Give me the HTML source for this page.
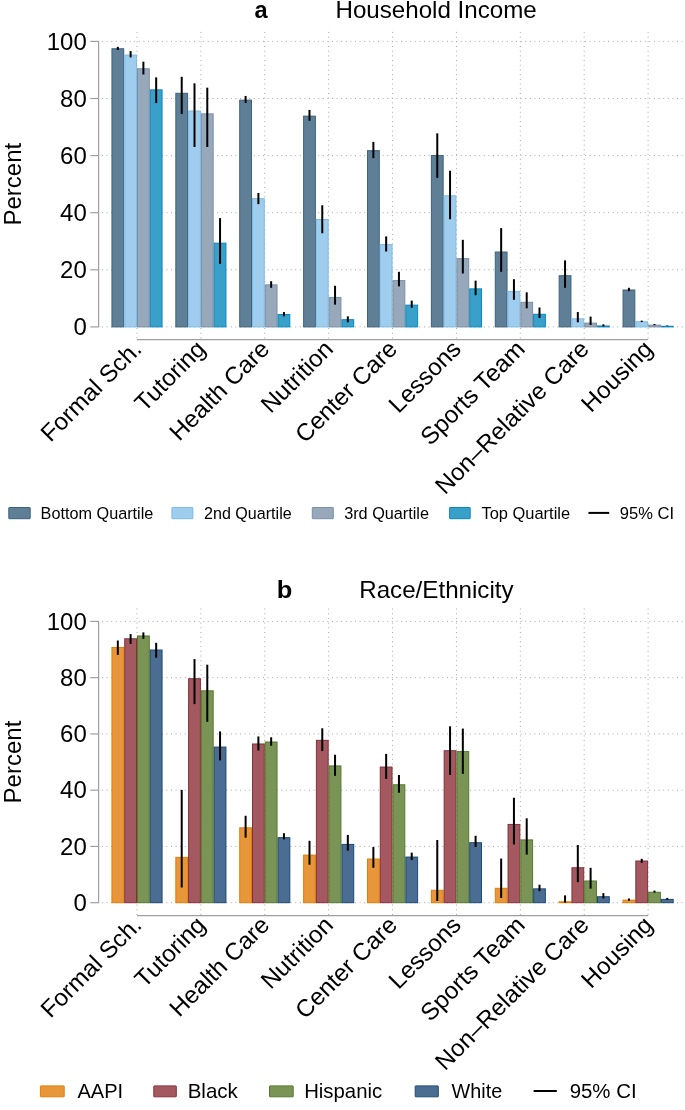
<!DOCTYPE html>
<html><head><meta charset="utf-8"><style>
html,body{margin:0;padding:0;background:#fff;}
body{width:685px;height:1110px;overflow:hidden;}
svg{display:block;font-family:"Liberation Sans", sans-serif;will-change:transform;}
.g{stroke:#a8a8a8;stroke-width:1;stroke-dasharray:1 3.6;}
.gv{stroke-dasharray:1 3.7;}
.e{stroke:#000;stroke-width:2;}
.ax{stroke:#a0a0a0;stroke-width:1.2;}
.yl{font-size:24px;fill:#000;}
.xl{font-size:24px;fill:#000;}
.t{font-size:24px;fill:#000;}
.tb{font-size:24px;font-weight:bold;fill:#000;}
</style></head><body>
<svg width="685" height="1110" viewBox="0 0 685 1110">
<rect width="685" height="1110" fill="#fff"/>
<line x1="102" y1="326.90" x2="685" y2="326.90" class="g"/>
<line x1="102" y1="269.80" x2="685" y2="269.80" class="g"/>
<line x1="102" y1="212.70" x2="685" y2="212.70" class="g"/>
<line x1="102" y1="155.60" x2="685" y2="155.60" class="g"/>
<line x1="102" y1="98.50" x2="685" y2="98.50" class="g"/>
<line x1="102" y1="41.40" x2="685" y2="41.40" class="g"/>
<line x1="137.00" y1="31.9" x2="137.00" y2="339.6" class="g gv"/>
<line x1="200.89" y1="31.9" x2="200.89" y2="339.6" class="g gv"/>
<line x1="264.77" y1="31.9" x2="264.77" y2="339.6" class="g gv"/>
<line x1="328.66" y1="31.9" x2="328.66" y2="339.6" class="g gv"/>
<line x1="392.55" y1="31.9" x2="392.55" y2="339.6" class="g gv"/>
<line x1="456.44" y1="31.9" x2="456.44" y2="339.6" class="g gv"/>
<line x1="520.33" y1="31.9" x2="520.33" y2="339.6" class="g gv"/>
<line x1="584.21" y1="31.9" x2="584.21" y2="339.6" class="g gv"/>
<line x1="648.10" y1="31.9" x2="648.10" y2="339.6" class="g gv"/>
<rect x="111.94" y="48.75" width="11.78" height="278.15" fill="#5f7f97" stroke="#3d627d" stroke-width="1"/>
<rect x="124.72" y="55.03" width="11.78" height="271.87" fill="#9ecdee" stroke="#7fbbe6" stroke-width="1"/>
<rect x="137.50" y="68.74" width="11.78" height="258.16" fill="#97a8ba" stroke="#7a90a7" stroke-width="1"/>
<rect x="150.28" y="89.86" width="11.78" height="237.04" fill="#39a0c9" stroke="#0d88bd" stroke-width="1"/>
<rect x="175.83" y="93.29" width="11.78" height="233.61" fill="#5f7f97" stroke="#3d627d" stroke-width="1"/>
<rect x="188.61" y="110.99" width="11.78" height="215.91" fill="#9ecdee" stroke="#7fbbe6" stroke-width="1"/>
<rect x="201.39" y="113.85" width="11.78" height="213.05" fill="#97a8ba" stroke="#7a90a7" stroke-width="1"/>
<rect x="214.16" y="243.18" width="11.78" height="83.72" fill="#39a0c9" stroke="#0d88bd" stroke-width="1"/>
<rect x="239.72" y="100.14" width="11.78" height="226.76" fill="#5f7f97" stroke="#3d627d" stroke-width="1"/>
<rect x="252.50" y="198.64" width="11.78" height="128.26" fill="#9ecdee" stroke="#7fbbe6" stroke-width="1"/>
<rect x="265.27" y="284.86" width="11.78" height="42.04" fill="#97a8ba" stroke="#7a90a7" stroke-width="1"/>
<rect x="278.05" y="314.55" width="11.78" height="12.35" fill="#39a0c9" stroke="#0d88bd" stroke-width="1"/>
<rect x="303.61" y="116.13" width="11.78" height="210.77" fill="#5f7f97" stroke="#3d627d" stroke-width="1"/>
<rect x="316.39" y="219.48" width="11.78" height="107.42" fill="#9ecdee" stroke="#7fbbe6" stroke-width="1"/>
<rect x="329.16" y="297.42" width="11.78" height="29.48" fill="#97a8ba" stroke="#7a90a7" stroke-width="1"/>
<rect x="341.94" y="319.69" width="11.78" height="7.21" fill="#39a0c9" stroke="#0d88bd" stroke-width="1"/>
<rect x="367.50" y="150.68" width="11.78" height="176.22" fill="#5f7f97" stroke="#3d627d" stroke-width="1"/>
<rect x="380.27" y="244.60" width="11.78" height="82.30" fill="#9ecdee" stroke="#7fbbe6" stroke-width="1"/>
<rect x="393.05" y="280.58" width="11.78" height="46.32" fill="#97a8ba" stroke="#7a90a7" stroke-width="1"/>
<rect x="405.83" y="305.13" width="11.78" height="21.77" fill="#39a0c9" stroke="#0d88bd" stroke-width="1"/>
<rect x="431.38" y="155.53" width="11.78" height="171.37" fill="#5f7f97" stroke="#3d627d" stroke-width="1"/>
<rect x="444.16" y="195.78" width="11.78" height="131.12" fill="#9ecdee" stroke="#7fbbe6" stroke-width="1"/>
<rect x="456.94" y="258.59" width="11.78" height="68.31" fill="#97a8ba" stroke="#7a90a7" stroke-width="1"/>
<rect x="469.71" y="288.86" width="11.78" height="38.04" fill="#39a0c9" stroke="#0d88bd" stroke-width="1"/>
<rect x="495.27" y="252.03" width="11.78" height="74.87" fill="#5f7f97" stroke="#3d627d" stroke-width="1"/>
<rect x="508.05" y="291.43" width="11.78" height="35.47" fill="#9ecdee" stroke="#7fbbe6" stroke-width="1"/>
<rect x="520.83" y="302.28" width="11.78" height="24.62" fill="#97a8ba" stroke="#7a90a7" stroke-width="1"/>
<rect x="533.60" y="314.27" width="11.78" height="12.63" fill="#39a0c9" stroke="#0d88bd" stroke-width="1"/>
<rect x="559.16" y="275.72" width="11.78" height="51.18" fill="#5f7f97" stroke="#3d627d" stroke-width="1"/>
<rect x="571.94" y="318.83" width="11.78" height="8.06" fill="#9ecdee" stroke="#7fbbe6" stroke-width="1"/>
<rect x="584.71" y="323.12" width="11.78" height="3.78" fill="#97a8ba" stroke="#7a90a7" stroke-width="1"/>
<rect x="597.49" y="325.97" width="11.78" height="0.93" fill="#39a0c9" stroke="#0d88bd" stroke-width="1"/>
<rect x="623.05" y="290.00" width="11.78" height="36.90" fill="#5f7f97" stroke="#3d627d" stroke-width="1"/>
<rect x="635.82" y="321.69" width="11.78" height="5.21" fill="#9ecdee" stroke="#7fbbe6" stroke-width="1"/>
<rect x="648.60" y="325.12" width="11.78" height="1.78" fill="#97a8ba" stroke="#7a90a7" stroke-width="1"/>
<rect x="661.38" y="326.26" width="11.78" height="0.64" fill="#39a0c9" stroke="#0d88bd" stroke-width="1"/>
<line x1="117.83" y1="46.82" x2="117.83" y2="49.96" class="e"/>
<line x1="130.61" y1="51.11" x2="130.61" y2="57.39" class="e"/>
<line x1="143.39" y1="61.67" x2="143.39" y2="74.52" class="e"/>
<line x1="156.17" y1="77.37" x2="156.17" y2="103.07" class="e"/>
<line x1="181.72" y1="76.80" x2="181.72" y2="113.92" class="e"/>
<line x1="194.50" y1="83.37" x2="194.50" y2="147.03" class="e"/>
<line x1="207.28" y1="87.65" x2="207.28" y2="147.03" class="e"/>
<line x1="220.05" y1="218.12" x2="220.05" y2="263.80" class="e"/>
<line x1="245.61" y1="95.93" x2="245.61" y2="103.07" class="e"/>
<line x1="258.39" y1="193.00" x2="258.39" y2="204.13" class="e"/>
<line x1="271.16" y1="281.22" x2="271.16" y2="287.79" class="e"/>
<line x1="283.94" y1="312.05" x2="283.94" y2="316.34" class="e"/>
<line x1="309.50" y1="109.92" x2="309.50" y2="120.77" class="e"/>
<line x1="322.27" y1="205.28" x2="322.27" y2="233.26" class="e"/>
<line x1="335.05" y1="285.79" x2="335.05" y2="304.63" class="e"/>
<line x1="347.83" y1="316.34" x2="347.83" y2="322.33" class="e"/>
<line x1="373.38" y1="141.90" x2="373.38" y2="158.17" class="e"/>
<line x1="386.16" y1="236.40" x2="386.16" y2="251.53" class="e"/>
<line x1="398.94" y1="271.80" x2="398.94" y2="286.36" class="e"/>
<line x1="411.72" y1="300.63" x2="411.72" y2="307.77" class="e"/>
<line x1="437.27" y1="133.33" x2="437.27" y2="177.87" class="e"/>
<line x1="450.05" y1="170.73" x2="450.05" y2="219.27" class="e"/>
<line x1="462.83" y1="239.82" x2="462.83" y2="273.51" class="e"/>
<line x1="475.60" y1="280.65" x2="475.60" y2="295.21" class="e"/>
<line x1="501.16" y1="228.12" x2="501.16" y2="271.80" class="e"/>
<line x1="513.94" y1="279.22" x2="513.94" y2="299.78" class="e"/>
<line x1="526.71" y1="292.35" x2="526.71" y2="308.34" class="e"/>
<line x1="539.49" y1="307.49" x2="539.49" y2="318.05" class="e"/>
<line x1="565.05" y1="260.38" x2="565.05" y2="287.79" class="e"/>
<line x1="577.82" y1="312.05" x2="577.82" y2="322.33" class="e"/>
<line x1="590.60" y1="316.62" x2="590.60" y2="324.90" class="e"/>
<line x1="603.38" y1="324.33" x2="603.38" y2="326.33" class="e"/>
<line x1="628.93" y1="287.79" x2="628.93" y2="291.21" class="e"/>
<line x1="641.71" y1="320.62" x2="641.71" y2="322.05" class="e"/>
<line x1="654.49" y1="324.04" x2="654.49" y2="325.19" class="e"/>
<line x1="667.27" y1="325.47" x2="667.27" y2="326.04" class="e"/>
<line x1="98.6" y1="41.40" x2="98.6" y2="326.90" class="ax"/>
<line x1="90.3" y1="326.90" x2="99.2" y2="326.90" class="ax"/>
<text x="86.8" y="335.00" text-anchor="end" class="yl">0</text>
<line x1="90.3" y1="269.80" x2="99.2" y2="269.80" class="ax"/>
<text x="86.8" y="277.90" text-anchor="end" class="yl">20</text>
<line x1="90.3" y1="212.70" x2="99.2" y2="212.70" class="ax"/>
<text x="86.8" y="220.80" text-anchor="end" class="yl">40</text>
<line x1="90.3" y1="155.60" x2="99.2" y2="155.60" class="ax"/>
<text x="86.8" y="163.70" text-anchor="end" class="yl">60</text>
<line x1="90.3" y1="98.50" x2="99.2" y2="98.50" class="ax"/>
<text x="86.8" y="106.60" text-anchor="end" class="yl">80</text>
<line x1="90.3" y1="41.40" x2="99.2" y2="41.40" class="ax"/>
<text x="86.8" y="49.50" text-anchor="end" class="yl">100</text>
<line x1="137.00" y1="339.6" x2="648.10" y2="339.6" class="ax"/>
<text transform="translate(21.1 184.15) rotate(-90)" text-anchor="middle" class="yl">Percent</text>
<text x="254.59" y="17.9" textLength="13.12" lengthAdjust="spacingAndGlyphs" style="font-size:24px" font-weight="bold">a</text>
<text x="335.47" y="17.9" textLength="201.20" lengthAdjust="spacingAndGlyphs" style="font-size:24px" >Household Income</text>
<text transform="translate(143.00 350.40) rotate(-45)" text-anchor="end" textLength="130.92" lengthAdjust="spacingAndGlyphs" class="xl">Formal Sch.</text>
<text transform="translate(206.89 350.40) rotate(-45)" text-anchor="end" textLength="88.20" lengthAdjust="spacingAndGlyphs" class="xl">Tutoring</text>
<text transform="translate(270.77 350.40) rotate(-45)" text-anchor="end" textLength="129.60" lengthAdjust="spacingAndGlyphs" class="xl">Health Care</text>
<text transform="translate(334.66 350.40) rotate(-45)" text-anchor="end" textLength="90.44" lengthAdjust="spacingAndGlyphs" class="xl">Nutrition</text>
<text transform="translate(398.55 350.40) rotate(-45)" text-anchor="end" textLength="132.30" lengthAdjust="spacingAndGlyphs" class="xl">Center Care</text>
<text transform="translate(462.44 350.40) rotate(-45)" text-anchor="end" textLength="90.47" lengthAdjust="spacingAndGlyphs" class="xl">Lessons</text>
<text transform="translate(526.33 350.40) rotate(-45)" text-anchor="end" textLength="135.90" lengthAdjust="spacingAndGlyphs" class="xl">Sports Team</text>
<text transform="translate(590.21 350.40) rotate(-45)" text-anchor="end" textLength="205.21" lengthAdjust="spacingAndGlyphs" class="xl">Non–Relative Care</text>
<text transform="translate(654.10 350.40) rotate(-45)" text-anchor="end" textLength="89.11" lengthAdjust="spacingAndGlyphs" class="xl">Housing</text>
<line x1="102" y1="902.70" x2="685" y2="902.70" class="g"/>
<line x1="102" y1="846.44" x2="685" y2="846.44" class="g"/>
<line x1="102" y1="790.18" x2="685" y2="790.18" class="g"/>
<line x1="102" y1="733.92" x2="685" y2="733.92" class="g"/>
<line x1="102" y1="677.66" x2="685" y2="677.66" class="g"/>
<line x1="102" y1="621.40" x2="685" y2="621.40" class="g"/>
<line x1="137.00" y1="608.5" x2="137.00" y2="915.6" class="g gv"/>
<line x1="200.89" y1="608.5" x2="200.89" y2="915.6" class="g gv"/>
<line x1="264.77" y1="608.5" x2="264.77" y2="915.6" class="g gv"/>
<line x1="328.66" y1="608.5" x2="328.66" y2="915.6" class="g gv"/>
<line x1="392.55" y1="608.5" x2="392.55" y2="915.6" class="g gv"/>
<line x1="456.44" y1="608.5" x2="456.44" y2="915.6" class="g gv"/>
<line x1="520.33" y1="608.5" x2="520.33" y2="915.6" class="g gv"/>
<line x1="584.21" y1="608.5" x2="584.21" y2="915.6" class="g gv"/>
<line x1="648.10" y1="608.5" x2="648.10" y2="915.6" class="g gv"/>
<rect x="111.94" y="647.50" width="11.78" height="255.20" fill="#e8963a" stroke="#e07f05" stroke-width="1"/>
<rect x="124.72" y="638.78" width="11.78" height="263.92" fill="#a3595f" stroke="#882e3a" stroke-width="1"/>
<rect x="137.50" y="635.96" width="11.78" height="266.74" fill="#7a9455" stroke="#557930" stroke-width="1"/>
<rect x="150.28" y="650.03" width="11.78" height="252.67" fill="#4a6d91" stroke="#1e4a75" stroke-width="1"/>
<rect x="175.83" y="857.35" width="11.78" height="45.35" fill="#e8963a" stroke="#e07f05" stroke-width="1"/>
<rect x="188.61" y="678.72" width="11.78" height="223.98" fill="#a3595f" stroke="#882e3a" stroke-width="1"/>
<rect x="201.39" y="690.82" width="11.78" height="211.88" fill="#7a9455" stroke="#557930" stroke-width="1"/>
<rect x="214.16" y="747.08" width="11.78" height="155.62" fill="#4a6d91" stroke="#1e4a75" stroke-width="1"/>
<rect x="239.72" y="827.81" width="11.78" height="74.89" fill="#e8963a" stroke="#e07f05" stroke-width="1"/>
<rect x="252.50" y="743.98" width="11.78" height="158.72" fill="#a3595f" stroke="#882e3a" stroke-width="1"/>
<rect x="265.27" y="742.02" width="11.78" height="160.68" fill="#7a9455" stroke="#557930" stroke-width="1"/>
<rect x="278.05" y="837.66" width="11.78" height="65.04" fill="#4a6d91" stroke="#1e4a75" stroke-width="1"/>
<rect x="303.61" y="855.10" width="11.78" height="47.60" fill="#e8963a" stroke="#e07f05" stroke-width="1"/>
<rect x="316.39" y="740.33" width="11.78" height="162.37" fill="#a3595f" stroke="#882e3a" stroke-width="1"/>
<rect x="329.16" y="765.93" width="11.78" height="136.77" fill="#7a9455" stroke="#557930" stroke-width="1"/>
<rect x="341.94" y="844.41" width="11.78" height="58.29" fill="#4a6d91" stroke="#1e4a75" stroke-width="1"/>
<rect x="367.50" y="859.04" width="11.78" height="43.66" fill="#e8963a" stroke="#e07f05" stroke-width="1"/>
<rect x="380.27" y="767.05" width="11.78" height="135.65" fill="#a3595f" stroke="#882e3a" stroke-width="1"/>
<rect x="393.05" y="784.77" width="11.78" height="117.93" fill="#7a9455" stroke="#557930" stroke-width="1"/>
<rect x="405.83" y="857.07" width="11.78" height="45.63" fill="#4a6d91" stroke="#1e4a75" stroke-width="1"/>
<rect x="431.38" y="890.26" width="11.78" height="12.44" fill="#e8963a" stroke="#e07f05" stroke-width="1"/>
<rect x="444.16" y="750.74" width="11.78" height="151.96" fill="#a3595f" stroke="#882e3a" stroke-width="1"/>
<rect x="456.94" y="751.58" width="11.78" height="151.12" fill="#7a9455" stroke="#557930" stroke-width="1"/>
<rect x="469.71" y="842.72" width="11.78" height="59.98" fill="#4a6d91" stroke="#1e4a75" stroke-width="1"/>
<rect x="495.27" y="888.29" width="11.78" height="14.41" fill="#e8963a" stroke="#e07f05" stroke-width="1"/>
<rect x="508.05" y="824.44" width="11.78" height="78.26" fill="#a3595f" stroke="#882e3a" stroke-width="1"/>
<rect x="520.83" y="839.91" width="11.78" height="62.79" fill="#7a9455" stroke="#557930" stroke-width="1"/>
<rect x="533.60" y="888.85" width="11.78" height="13.85" fill="#4a6d91" stroke="#1e4a75" stroke-width="1"/>
<rect x="559.16" y="901.79" width="11.78" height="0.91" fill="#e8963a" stroke="#e07f05" stroke-width="1"/>
<rect x="571.94" y="867.76" width="11.78" height="34.94" fill="#a3595f" stroke="#882e3a" stroke-width="1"/>
<rect x="584.71" y="880.98" width="11.78" height="21.72" fill="#7a9455" stroke="#557930" stroke-width="1"/>
<rect x="597.49" y="896.73" width="11.78" height="5.97" fill="#4a6d91" stroke="#1e4a75" stroke-width="1"/>
<rect x="623.05" y="900.11" width="11.78" height="2.59" fill="#e8963a" stroke="#e07f05" stroke-width="1"/>
<rect x="635.82" y="861.00" width="11.78" height="41.70" fill="#a3595f" stroke="#882e3a" stroke-width="1"/>
<rect x="648.60" y="892.23" width="11.78" height="10.47" fill="#7a9455" stroke="#557930" stroke-width="1"/>
<rect x="661.38" y="899.40" width="11.78" height="3.30" fill="#4a6d91" stroke="#1e4a75" stroke-width="1"/>
<line x1="117.83" y1="640.53" x2="117.83" y2="654.87" class="e"/>
<line x1="130.61" y1="634.06" x2="130.61" y2="643.90" class="e"/>
<line x1="143.39" y1="632.37" x2="143.39" y2="638.84" class="e"/>
<line x1="156.17" y1="642.78" x2="156.17" y2="657.69" class="e"/>
<line x1="181.72" y1="789.90" x2="181.72" y2="887.51" class="e"/>
<line x1="194.50" y1="659.09" x2="194.50" y2="704.10" class="e"/>
<line x1="207.28" y1="664.72" x2="207.28" y2="721.82" class="e"/>
<line x1="220.05" y1="731.39" x2="220.05" y2="760.36" class="e"/>
<line x1="245.61" y1="815.78" x2="245.61" y2="837.72" class="e"/>
<line x1="258.39" y1="736.45" x2="258.39" y2="750.52" class="e"/>
<line x1="271.16" y1="737.30" x2="271.16" y2="745.73" class="e"/>
<line x1="283.94" y1="833.22" x2="283.94" y2="839.41" class="e"/>
<line x1="309.50" y1="840.81" x2="309.50" y2="864.72" class="e"/>
<line x1="322.27" y1="728.29" x2="322.27" y2="751.08" class="e"/>
<line x1="335.05" y1="754.74" x2="335.05" y2="775.83" class="e"/>
<line x1="347.83" y1="834.91" x2="347.83" y2="850.66" class="e"/>
<line x1="373.38" y1="847.00" x2="373.38" y2="867.82" class="e"/>
<line x1="386.16" y1="753.89" x2="386.16" y2="778.93" class="e"/>
<line x1="398.94" y1="774.99" x2="398.94" y2="792.71" class="e"/>
<line x1="411.72" y1="852.63" x2="411.72" y2="859.94" class="e"/>
<line x1="437.27" y1="839.97" x2="437.27" y2="901.01" class="e"/>
<line x1="450.05" y1="726.32" x2="450.05" y2="774.99" class="e"/>
<line x1="462.83" y1="728.58" x2="462.83" y2="773.86" class="e"/>
<line x1="475.60" y1="835.75" x2="475.60" y2="847.00" class="e"/>
<line x1="501.16" y1="858.54" x2="501.16" y2="897.92" class="e"/>
<line x1="513.94" y1="797.78" x2="513.94" y2="844.47" class="e"/>
<line x1="526.71" y1="818.31" x2="526.71" y2="854.60" class="e"/>
<line x1="539.49" y1="884.70" x2="539.49" y2="891.17" class="e"/>
<line x1="565.05" y1="895.39" x2="565.05" y2="902.70" class="e"/>
<line x1="577.82" y1="845.03" x2="577.82" y2="882.17" class="e"/>
<line x1="590.60" y1="867.82" x2="590.60" y2="888.63" class="e"/>
<line x1="603.38" y1="893.14" x2="603.38" y2="898.48" class="e"/>
<line x1="628.93" y1="898.48" x2="628.93" y2="900.73" class="e"/>
<line x1="641.71" y1="858.82" x2="641.71" y2="862.76" class="e"/>
<line x1="654.49" y1="890.60" x2="654.49" y2="892.57" class="e"/>
<line x1="667.27" y1="897.92" x2="667.27" y2="899.61" class="e"/>
<line x1="98.6" y1="621.40" x2="98.6" y2="902.70" class="ax"/>
<line x1="90.3" y1="902.70" x2="99.2" y2="902.70" class="ax"/>
<text x="86.8" y="910.80" text-anchor="end" class="yl">0</text>
<line x1="90.3" y1="846.44" x2="99.2" y2="846.44" class="ax"/>
<text x="86.8" y="854.54" text-anchor="end" class="yl">20</text>
<line x1="90.3" y1="790.18" x2="99.2" y2="790.18" class="ax"/>
<text x="86.8" y="798.28" text-anchor="end" class="yl">40</text>
<line x1="90.3" y1="733.92" x2="99.2" y2="733.92" class="ax"/>
<text x="86.8" y="742.02" text-anchor="end" class="yl">60</text>
<line x1="90.3" y1="677.66" x2="99.2" y2="677.66" class="ax"/>
<text x="86.8" y="685.76" text-anchor="end" class="yl">80</text>
<line x1="90.3" y1="621.40" x2="99.2" y2="621.40" class="ax"/>
<text x="86.8" y="629.50" text-anchor="end" class="yl">100</text>
<line x1="137.00" y1="915.6" x2="648.10" y2="915.6" class="ax"/>
<text transform="translate(21.1 762.05) rotate(-90)" text-anchor="middle" class="yl">Percent</text>
<text x="276.84" y="597.9" textLength="15.60" lengthAdjust="spacingAndGlyphs" style="font-size:24px" font-weight="bold">b</text>
<text x="359.27" y="597.9" textLength="154.29" lengthAdjust="spacingAndGlyphs" style="font-size:24px" >Race/Ethnicity</text>
<text transform="translate(143.00 926.40) rotate(-45)" text-anchor="end" textLength="130.92" lengthAdjust="spacingAndGlyphs" class="xl">Formal Sch.</text>
<text transform="translate(206.89 926.40) rotate(-45)" text-anchor="end" textLength="88.20" lengthAdjust="spacingAndGlyphs" class="xl">Tutoring</text>
<text transform="translate(270.77 926.40) rotate(-45)" text-anchor="end" textLength="129.60" lengthAdjust="spacingAndGlyphs" class="xl">Health Care</text>
<text transform="translate(334.66 926.40) rotate(-45)" text-anchor="end" textLength="90.44" lengthAdjust="spacingAndGlyphs" class="xl">Nutrition</text>
<text transform="translate(398.55 926.40) rotate(-45)" text-anchor="end" textLength="132.30" lengthAdjust="spacingAndGlyphs" class="xl">Center Care</text>
<text transform="translate(462.44 926.40) rotate(-45)" text-anchor="end" textLength="90.47" lengthAdjust="spacingAndGlyphs" class="xl">Lessons</text>
<text transform="translate(526.33 926.40) rotate(-45)" text-anchor="end" textLength="135.90" lengthAdjust="spacingAndGlyphs" class="xl">Sports Team</text>
<text transform="translate(590.21 926.40) rotate(-45)" text-anchor="end" textLength="205.21" lengthAdjust="spacingAndGlyphs" class="xl">Non–Relative Care</text>
<text transform="translate(654.10 926.40) rotate(-45)" text-anchor="end" textLength="89.11" lengthAdjust="spacingAndGlyphs" class="xl">Housing</text>
<rect x="8.80" y="507.50" width="21.40" height="11.20" rx="0.4" fill="#5f7f97" stroke="#3d627d" stroke-width="1"/>
<rect x="171.90" y="507.50" width="21.00" height="11.20" rx="0.4" fill="#9ecdee" stroke="#7fbbe6" stroke-width="1"/>
<rect x="312.30" y="507.50" width="21.00" height="11.20" rx="0.4" fill="#97a8ba" stroke="#7a90a7" stroke-width="1"/>
<rect x="449.60" y="507.50" width="20.60" height="11.20" rx="0.4" fill="#39a0c9" stroke="#0d88bd" stroke-width="1"/>
<text x="40.60" y="519.0" textLength="112.77" lengthAdjust="spacingAndGlyphs" style="font-size:16.3px" >Bottom Quartile</text>
<text x="204.00" y="519.0" textLength="87.68" lengthAdjust="spacingAndGlyphs" style="font-size:16.3px" >2nd Quartile</text>
<text x="344.15" y="519.0" textLength="84.88" lengthAdjust="spacingAndGlyphs" style="font-size:16.3px" >3rd Quartile</text>
<text x="481.49" y="519.0" textLength="88.58" lengthAdjust="spacingAndGlyphs" style="font-size:16.3px" >Top Quartile</text>
<line x1="588.4" y1="512.9" x2="609.2" y2="512.9" stroke="#000" stroke-width="2"/>
<text x="619.75" y="519.0" textLength="54.31" lengthAdjust="spacingAndGlyphs" style="font-size:16.3px" >95% CI</text>
<rect x="40.40" y="1085.90" width="23.80" height="10.90" rx="0.4" fill="#e8963a" stroke="#e07f05" stroke-width="1"/>
<rect x="153.80" y="1085.90" width="22.50" height="10.90" rx="0.4" fill="#a3595f" stroke="#882e3a" stroke-width="1"/>
<rect x="269.50" y="1085.90" width="23.70" height="10.90" rx="0.4" fill="#7a9455" stroke="#557930" stroke-width="1"/>
<rect x="415.20" y="1085.90" width="23.10" height="10.90" rx="0.4" fill="#4a6d91" stroke="#1e4a75" stroke-width="1"/>
<text x="77.50" y="1097.8" textLength="45.68" lengthAdjust="spacingAndGlyphs" style="font-size:20.3px" >AAPI</text>
<text x="187.66" y="1097.8" textLength="50.25" lengthAdjust="spacingAndGlyphs" style="font-size:20.3px" >Black</text>
<text x="304.17" y="1097.8" textLength="78.04" lengthAdjust="spacingAndGlyphs" style="font-size:20.3px" >Hispanic</text>
<text x="451.60" y="1097.8" textLength="50.61" lengthAdjust="spacingAndGlyphs" style="font-size:20.3px" >White</text>
<line x1="533.6" y1="1091.0" x2="556.8" y2="1091.0" stroke="#000" stroke-width="2"/>
<text x="569.68" y="1097.8" textLength="66.94" lengthAdjust="spacingAndGlyphs" style="font-size:20.3px" >95% CI</text>
</svg>
</body></html>
